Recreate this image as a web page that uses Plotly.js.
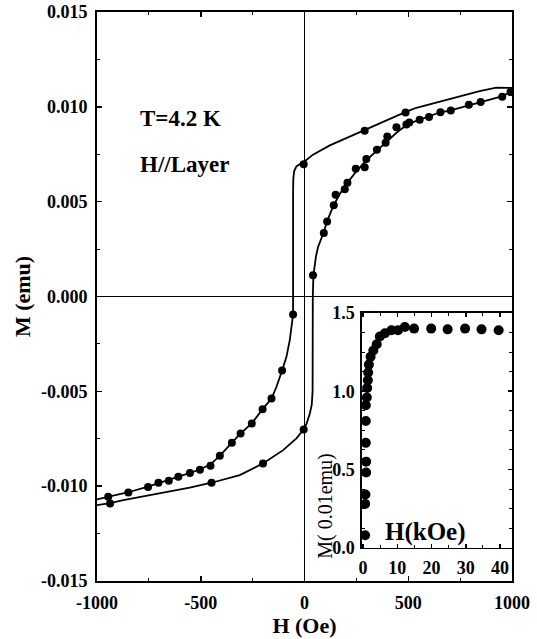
<!DOCTYPE html>
<html>
<head>
<meta charset="utf-8">
<script src="https://cdn.plot.ly/plotly-3.0.1.min.js"></script>
<style>html,body{margin:0;padding:0;background:#fff;}#chart{width:537px;height:639px;}</style>
</head>
<body>
<div id="chart"></div>
<script>
// ---- Main panel: hysteresis loop, M (emu) vs H (Oe) ----
// descending branch (from +H to -H), solid curve
var descLineH = [1000, 924, 844, 779, 699, 619, 539, 491, 362, 290, 202, 122, 41, 0, -20, -39, -50, -54, -55, -55, -55, -71, -87, -108, -135, -159, -202, -254, -308, -350, -408, -453, -504, -552, -608, -654, -704, -754, -849, -946, -1000];
var descLineM = [0.01100, 0.01101, 0.01083, 0.01064, 0.01043, 0.01020, 0.00995, 0.00975, 0.00914, 0.00880, 0.00837, 0.00797, 0.00748, 0.00712, 0.00700, 0.00686, 0.00660, 0.00620, 0.00540, 0.00000, -0.00095, -0.00230, -0.00318, -0.00390, -0.00476, -0.00538, -0.00594, -0.00669, -0.00722, -0.00771, -0.00840, -0.00885, -0.00912, -0.00930, -0.00950, -0.00968, -0.00982, -0.01002, -0.01032, -0.01055, -0.01070];
// ascending branch (from -H to +H), solid curve
var ascLineH = [-1000, -937, -873, -713, -553, -448, -312, -200, -103, -39, -4, 10, 25, 35, 39, 40, 41, 43, 55, 65, 93, 110, 140, 170, 200, 250, 300, 350, 400, 450, 500, 550, 600, 650, 700, 800, 900, 950, 1000];
var ascLineM = [-0.01100, -0.01089, -0.01073, -0.01042, -0.01008, -0.00982, -0.00942, -0.00880, -0.00810, -0.00748, -0.00701, -0.00670, -0.00620, -0.00570, -0.00500, 0.00000, 0.00080, 0.00112, 0.00210, 0.00260, 0.00340, 0.00400, 0.00480, 0.00540, 0.00590, 0.00660, 0.00720, 0.00770, 0.00820, 0.00870, 0.00910, 0.00930, 0.00948, 0.00970, 0.00980, 0.01010, 0.01040, 0.01055, 0.01080];
// measured points, descending branch
var descPtsH = [487, 290, -4, -55, -108, -159, -202, -254, -308, -350, -408, -453, -504, -552, -608, -654, -704, -754, -849, -946];
var descPtsM = [0.00970, 0.00874, 0.00697, -0.00095, -0.00390, -0.00538, -0.00594, -0.00669, -0.00722, -0.00771, -0.00840, -0.00893, -0.00914, -0.00930, -0.00950, -0.00972, -0.00982, -0.01004, -0.01034, -0.01056];
// measured points, ascending branch
var ascPtsH = [-937, -448, -200, -4, 41, 93, 109, 141, 150, 194, 207, 247, 290, 298, 349, 391, 399, 443, 491, 505, 555, 600, 655, 705, 792, 849, 953, 993];
var ascPtsM = [-0.01091, -0.00982, -0.00880, -0.00701, 0.00112, 0.00335, 0.00396, 0.00481, 0.00537, 0.00565, 0.00600, 0.00674, 0.00682, 0.00725, 0.00774, 0.00811, 0.00844, 0.00893, 0.00907, 0.00918, 0.00932, 0.00946, 0.00971, 0.00981, 0.01011, 0.01026, 0.01053, 0.01078];
// ---- Inset: M (0.01 emu) vs H (kOe) ----
var insetH = [0.6, 0.6, 0.7, 0.9, 0.9, 0.8, 0.8, 0.8, 1.1, 1.2, 1.4, 1.5, 1.7, 2.2, 3.0, 4.0, 4.9, 6.4, 8.3, 10.2, 12.2, 14.9, 19.9, 24.7, 29.8, 34.6, 39.6];
var insetM = [0.08, 0.28, 0.34, 0.48, 0.55, 0.67, 0.81, 0.91, 0.96, 1.02, 1.07, 1.12, 1.17, 1.22, 1.26, 1.30, 1.35, 1.37, 1.39, 1.39, 1.41, 1.40, 1.40, 1.395, 1.40, 1.395, 1.39];
// tick labels
var xTickVals = [-1000, -500, 0, 500, 1000];
var xTickText = ['-1000', '-500', '0', '500', '1000'];
var yTickVals = [-0.015, -0.010, -0.005, 0, 0.005, 0.010, 0.015];
var yTickText = ['-0.015', '-0.010', '-0.005', '0.000', '0.005', '0.010', '0.015'];
var x2TickVals = [0, 10, 20, 30, 40];
var x2TickText = ['0', '10', '20', '30', '40'];
var y2TickVals = [0, 0.5, 1.0, 1.5];
var y2TickText = ['0.0', '0.5', '1.0', '1.5'];

var FONT = 'Liberation Serif, Times New Roman, serif';
var lineStyle = {color: '#000', width: 1.8};
var mk = {color: '#000', size: 8};

var traces = [
  {x: descLineH, y: descLineM, mode: 'lines', line: lineStyle, xaxis: 'x', yaxis: 'y', hoverinfo: 'skip'},
  {x: ascLineH, y: ascLineM, mode: 'lines', line: lineStyle, xaxis: 'x', yaxis: 'y', hoverinfo: 'skip'},
  {x: descPtsH, y: descPtsM, mode: 'markers', marker: mk, xaxis: 'x', yaxis: 'y'},
  {x: ascPtsH, y: ascPtsM, mode: 'markers', marker: mk, xaxis: 'x', yaxis: 'y'},
  {x: insetH, y: insetM, mode: 'markers', marker: {color: '#000', size: 10}, xaxis: 'x2', yaxis: 'y2', cliponaxis: true}
];

var axCommon = {
  showline: true, linecolor: '#000', linewidth: 2, mirror: 'ticks',
  ticks: 'inside', ticklen: 5, tickwidth: 1.5, tickcolor: '#000',
  showgrid: false, tickmode: 'array',
  tickfont: {family: FONT, size: 18, color: '#000', weight: 'bold'}
};

var layout = {
  width: 537, height: 639,
  margin: {l: 97, r: 24.5, t: 11.5, b: 58, pad: 0},
  paper_bgcolor: '#fff', plot_bgcolor: '#fff',
  showlegend: false,
  font: {family: FONT, color: '#000', weight: 'bold'},
  xaxis: Object.assign({}, axCommon, {
    domain: [0, 1], range: [-1000, 1000],
    tickvals: xTickVals, ticktext: xTickText,
    zeroline: true, zerolinecolor: '#000', zerolinewidth: 1.5,
    minor: {tickmode: 'linear', tick0: 0, dtick: 250, ticks: 'inside', ticklen: 3, tickcolor: '#000', tickwidth: 1},
    ticklabelstandoff: 4,
    title: {text: 'H (Oe)', font: {family: FONT, size: 22, color: '#000', weight: 'bold'}, standoff: 6}
  }),
  yaxis: Object.assign({}, axCommon, {
    domain: [0, 1], range: [-0.015, 0.015],
    tickvals: yTickVals, ticktext: yTickText,
    zeroline: true, zerolinecolor: '#000', zerolinewidth: 1.5,
    minor: {tickmode: 'linear', tick0: 0, dtick: 0.0025, ticks: 'inside', ticklen: 3, tickcolor: '#000', tickwidth: 1},
    ticklabelstandoff: 4,
    title: {text: 'M (emu)', font: {family: FONT, size: 22, color: '#000', weight: 'bold'}, standoff: 4}
  }),
  xaxis2: Object.assign({}, axCommon, {
    domain: [0.6386, 1], range: [-0.3, 43.5], anchor: 'y2',
    linewidth: 1.6, ticklen: 4,
    tickvals: x2TickVals, ticktext: x2TickText,
    zeroline: false,
    tickfont: {family: FONT, size: 18, color: '#000', weight: 'bold'},
    minor: {tickmode: 'linear', tick0: 0, dtick: 5, ticks: 'inside', ticklen: 3, tickcolor: '#000', tickwidth: 1},
    ticklabelstandoff: 3
  }),
  yaxis2: Object.assign({}, axCommon, {
    domain: [0.0585, 0.4711], range: [0, 1.5], anchor: 'x2',
    linewidth: 1.6, ticklen: 4,
    tickvals: y2TickVals, ticktext: y2TickText,
    zeroline: false,
    tickfont: {family: FONT, size: 18, color: '#000', weight: 'bold'},
    minor: {tickmode: 'linear', tick0: 0, dtick: 0.125, ticks: 'inside', ticklen: 3, tickcolor: '#000', tickwidth: 1},
    ticklabelstandoff: 2
  }),
  annotations: [
    {text: 'T=4.2 K', xref: 'paper', yref: 'paper', x: (138 - 97) / 415.5, y: (581 - 118) / 569.5, xanchor: 'left', yanchor: 'middle', showarrow: false, font: {family: FONT, size: 23, color: '#000', weight: 'bold'}},
    {text: 'H//Layer', xref: 'paper', yref: 'paper', x: (138 - 97) / 415.5, y: (581 - 164) / 569.5, xanchor: 'left', yanchor: 'middle', showarrow: false, font: {family: FONT, size: 23, color: '#000', weight: 'bold'}},
    {text: 'H(kOe)', xref: 'paper', yref: 'paper', x: (426 - 97) / 415.5, y: (581 - 532) / 569.5, xanchor: 'center', yanchor: 'middle', showarrow: false, font: {family: FONT, size: 25, color: '#000', weight: 'bold'}},
    {text: 'M( 0.01emu)', xref: 'paper', yref: 'paper', x: (325 - 97) / 415.5, y: (581 - 506) / 569.5, xanchor: 'center', yanchor: 'middle', textangle: -90, showarrow: false, font: {family: FONT, size: 20, color: '#000', weight: 'normal'}}
  ]
};

Plotly.newPlot('chart', traces, layout, {displayModeBar: false, staticPlot: true});
</script>
</body>
</html>
